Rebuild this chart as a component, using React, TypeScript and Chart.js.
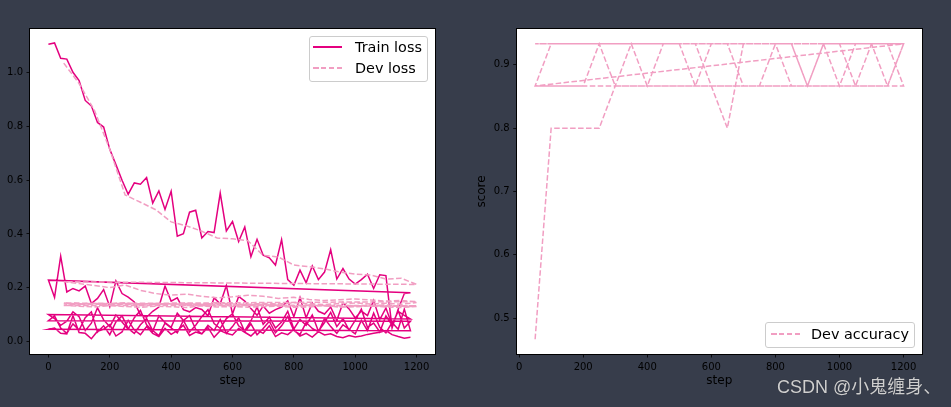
import React, { useEffect, useRef } from "react";
import { Chart, registerables } from "chart.js";

Chart.register(...registerables);

// ---------------- data ----------------
const trainSteps = [
  0, 20, 40, 60, 80, 100, 120, 140, 160, 180, 200, 220, 240, 260, 280, 300, 320, 340, 360, 380,
  400, 420, 440, 460, 480, 500, 520, 540, 560, 580, 600, 620, 640, 660, 680, 700, 720, 740, 760, 780,
  800, 820, 840, 860, 880, 900, 920, 940, 960, 980, 1000, 1020, 1040, 1060, 1080, 1100, 1120, 1140, 1160, 1180,
];
const devSteps = [
  50, 100, 150, 200, 250, 300, 350, 400, 450, 500, 550, 600,
  650, 700, 750, 800, 850, 900, 950, 1000, 1050, 1100, 1150, 1200,
];

const trainLossRun1 = [
  1.106, 1.111, 1.054, 1.051, 1.002, 0.971, 0.897, 0.877, 0.815, 0.798,
  0.715, 0.658, 0.600, 0.548, 0.590, 0.585, 0.610, 0.515, 0.560, 0.491,
  0.559, 0.392, 0.401, 0.481, 0.488, 0.385, 0.409, 0.405, 0.552, 0.411,
  0.446, 0.372, 0.426, 0.315, 0.380, 0.321, 0.311, 0.284, 0.379, 0.230,
  0.209, 0.265, 0.218, 0.281, 0.230, 0.258, 0.341, 0.232, 0.271, 0.232,
  0.213, 0.230, 0.250, 0.197, 0.248, 0.245, 0.050, 0.120, 0.178, 0.181,
];
const trainLossRun2 = [
  0.228, 0.164, 0.317, 0.184, 0.197, 0.188, 0.206, 0.141, 0.160, 0.193,
  0.129, 0.225, 0.178, 0.165, 0.147, 0.098, 0.090, 0.112, 0.128, 0.206,
  0.150, 0.162, 0.118, 0.110, 0.126, 0.119, 0.095, 0.162, 0.140, 0.208,
  0.102, 0.167, 0.150, 0.122, 0.097, 0.132, 0.105, 0.118, 0.128, 0.151,
  0.092, 0.163, 0.088, 0.143, 0.112, 0.102, 0.128, 0.078, 0.144, 0.121,
  0.087, 0.113, 0.096, 0.152, 0.081, 0.124, 0.062, 0.112, 0.097, 0.083,
];
const trainLossRun3 = [
  0.100, 0.085, 0.060, 0.075, 0.110, 0.092, 0.040, 0.068, 0.125, 0.080,
  0.055, 0.098, 0.072, 0.045, 0.088, 0.115, 0.062, 0.038, 0.095, 0.070,
  0.052, 0.105, 0.078, 0.035, 0.060, 0.092, 0.118, 0.066, 0.048, 0.085,
  0.102, 0.058, 0.040, 0.076, 0.128, 0.064, 0.090, 0.050, 0.072, 0.112,
  0.046, 0.082, 0.060, 0.098, 0.038, 0.070, 0.108, 0.055, 0.085, 0.042,
  0.078, 0.120, 0.052, 0.068, 0.035, 0.095, 0.060, 0.115, 0.050, 0.075,
];
const trainLossRun4 = [
  0.077, 0.095, 0.050, 0.030, 0.065, 0.042, 0.088, 0.110, 0.035, 0.058,
  0.025, 0.072, 0.095, 0.048, 0.030, 0.062, 0.085, 0.040, 0.022, 0.068,
  0.050, 0.032, 0.078, 0.096, 0.045, 0.028, 0.060, 0.040, 0.082, 0.030,
  0.055, 0.088, 0.036, 0.065, 0.025, 0.048, 0.075, 0.032, 0.058, 0.092,
  0.040, 0.026, 0.070, 0.048, 0.035, 0.085, 0.055, 0.030, 0.062, 0.045,
  0.028, 0.078, 0.040, 0.105, 0.052, 0.032, 0.070, 0.045, 0.120, 0.040,
];
const trainLossRun5 = [
  0.045, 0.050, 0.030, 0.028, 0.095, 0.033, 0.030, 0.010, 0.038, 0.045,
  0.062, 0.020, 0.035, 0.078, 0.042, 0.025, 0.055, 0.030, 0.018, 0.048,
  0.026, 0.040, 0.060, 0.022, 0.035, 0.028, 0.052, 0.015, 0.040, 0.030,
  0.024, 0.048, 0.034, 0.020, 0.042, 0.030, 0.058, 0.018, 0.032, 0.025,
  0.044, 0.020, 0.030, 0.016, 0.036, 0.024, 0.028, 0.018, 0.014, 0.022,
  0.016, 0.020, 0.026, 0.030, 0.034, 0.040, 0.025, 0.018, 0.012, 0.015,
];

const devLossRun1 = [
  1.036, 0.960, 0.860, 0.715, 0.545, 0.518, 0.490, 0.445, 0.430, 0.410, 0.385, 0.382,
  0.375, 0.320, 0.314, 0.284, 0.278, 0.270, 0.258, 0.250, 0.247, 0.232, 0.235, 0.212,
];
const devLossRun2 = [
  0.222, 0.215, 0.208, 0.200, 0.210, 0.190, 0.178, 0.172, 0.176, 0.168, 0.162, 0.166,
  0.172, 0.168, 0.160, 0.164, 0.156, 0.152, 0.155, 0.158, 0.154, 0.150, 0.152, 0.148,
];
const devLossRun3 = [
  0.140, 0.138, 0.142, 0.136, 0.139, 0.135, 0.137, 0.140, 0.134, 0.132, 0.136, 0.131,
  0.134, 0.138, 0.133, 0.130, 0.135, 0.132, 0.129, 0.134, 0.131, 0.136, 0.130, 0.133,
];
const devLossRun4 = [
  0.134, 0.131, 0.128, 0.133, 0.130, 0.127, 0.131, 0.129, 0.126, 0.132, 0.128, 0.130,
  0.127, 0.129, 0.131, 0.127, 0.128, 0.133, 0.127, 0.129, 0.132, 0.128, 0.126, 0.130,
];
const devLossRun5 = [
  0.143, 0.140, 0.137, 0.141, 0.144, 0.138, 0.142, 0.139, 0.141, 0.137, 0.143, 0.140,
  0.138, 0.142, 0.139, 0.144, 0.140, 0.137, 0.141, 0.143, 0.139, 0.142, 0.138, 0.145,
];

const devAccRun1 = [
  0.4667, 0.8, 0.8, 0.8, 0.8, 0.8667, 0.9333, 0.8667, 0.9333, 0.9333, 0.9333, 0.8667,
  0.8, 0.9333, 0.9333, 0.9333, 0.8667, 0.8667, 0.9333, 0.8667, 0.9333, 0.9333, 0.8667, 0.9333,
];
const devAccRun2 = [
  0.8667, 0.9333, 0.9333, 0.9333, 0.9333, 0.9333, 0.9333, 0.9333, 0.9333, 0.9333, 0.8667, 0.9333,
  0.9333, 0.8667, 0.8667, 0.9333, 0.9333, 0.8667, 0.9333, 0.9333, 0.8667, 0.9333, 0.9333, 0.8667,
];
const devAccRun3 = [
  0.8667, 0.8667, 0.8667, 0.8667, 0.9333, 0.8667, 0.8667, 0.8667, 0.8667, 0.8667, 0.8667, 0.8667,
  0.8667, 0.8667, 0.8667, 0.8667, 0.8667, 0.8667, 0.8667, 0.8667, 0.8667, 0.8667, 0.8667, 0.9333,
];
const devAccRun4 = [
  0.9333, 0.9333, 0.9333, 0.9333, 0.9333, 0.9333, 0.9333, 0.9333, 0.9333, 0.9333, 0.9333, 0.9333,
  0.9333, 0.9333, 0.9333, 0.9333, 0.9333, 0.8667, 0.9333, 0.9333, 0.9333, 0.9333, 0.9333, 0.9333,
];
const devAccRun5 = [
  0.9333, 0.9333, 0.9333, 0.9333, 0.9333, 0.9333, 0.9333, 0.9333, 0.9333, 0.9333, 0.9333, 0.9333,
  0.9333, 0.9333, 0.9333, 0.9333, 0.9333, 0.9333, 0.9333, 0.9333, 0.9333, 0.9333, 0.9333, 0.9333,
];

const stepTicks = [0, 200, 400, 600, 800, 1000, 1200];
const lossTicks = [0.0, 0.2, 0.4, 0.6, 0.8, 1.0];
const scoreTicks = [0.5, 0.6, 0.7, 0.8, 0.9];

// ---------------- style ----------------
const TRAIN_COLOR = "#e4007f";
const DEV_COLOR = "#f19ec2";
const BG = "#373d4b";
const FONT = "'DejaVu Sans', sans-serif";
const DASH = [5.55, 2.4];

function joinRuns(steps: number[], runs: number[][]) {
  const out: { x: number; y: number }[] = [];
  runs.forEach((r) => r.forEach((v, i) => out.push({ x: steps[i], y: v })));
  return out;
}

const framePlugin = {
  id: "frame",
  beforeDraw(chart: any) {
    const { ctx, chartArea } = chart;
    const { left, top, right, bottom } = chartArea;
    ctx.save();
    ctx.fillStyle = "#ffffff";
    ctx.fillRect(left, top, right - left, bottom - top);
    ctx.restore();
  },
  afterDraw(chart: any) {
    const { ctx, chartArea } = chart;
    const { left, top, right, bottom } = chartArea;
    ctx.save();
    ctx.strokeStyle = "#000000";
    ctx.lineWidth = 1;
    ctx.strokeRect(Math.round(left) - 0.5, Math.round(top) - 0.5, Math.round(right - left) + 1, Math.round(bottom - top) + 1);
    ctx.restore();
  },
};

function makeScale(
  min: number,
  max: number,
  ticks: number[],
  fmt: (v: number) => string,
  horizontal: boolean,
  size: number,
  title?: { text: string; padding: any }
) {
  return {
    type: "linear",
    min,
    max,
    afterBuildTicks: (s: any) => {
      s.ticks = ticks.map((v) => ({ value: v }));
    },
    afterFit: (s: any) => {
      if (horizontal) s.height = size;
      else s.width = size;
    },
    ticks: {
      color: "#000000",
      font: { family: FONT, size: 10 },
      padding: 3.5,
      autoSkip: false,
      maxRotation: 0,
      callback: (v: any) => fmt(Number(v)),
    },
    grid: {
      display: true,
      drawOnChartArea: false,
      drawTicks: true,
      tickLength: 3.5,
      tickWidth: 0.8,
      tickColor: "#000000",
      color: "#000000",
    },
    border: { display: false },
    title: title
      ? {
          display: true,
          text: title.text,
          color: "#000000",
          font: { family: FONT, size: 12 },
          padding: title.padding,
        }
      : { display: false },
  };
}

function ChartCanvas({ config, left, width }: { config: any; left: number; width: number }) {
  const ref = useRef<HTMLCanvasElement | null>(null);
  useEffect(() => {
    if (!ref.current) return;
    const chart = new Chart(ref.current, config);
    return () => chart.destroy();
  }, [config]);
  return (
    <canvas
      ref={ref}
      width={width}
      height={407}
      style={{ position: "absolute", left, top: 0, width, height: 407 }}
    />
  );
}

const lossConfig = {
  type: "line",
  data: {
    datasets: [
      {
        label: "Dev loss",
        data: joinRuns(devSteps, [devLossRun1, devLossRun2, devLossRun3, devLossRun4, devLossRun5]),
        borderColor: DEV_COLOR,
        borderWidth: 1.5,
        borderDash: DASH,
        pointRadius: 0,
        fill: false,
        tension: 0,
        order: 1,
      },
      {
        label: "Train loss",
        data: joinRuns(trainSteps, [trainLossRun1, trainLossRun2, trainLossRun3, trainLossRun4, trainLossRun5]),
        borderColor: TRAIN_COLOR,
        borderWidth: 1.5,
        pointRadius: 0,
        fill: false,
        tension: 0,
        order: 2,
      },
    ],
  },
  options: {
    animation: false,
    responsive: false,
    events: [],
    layout: { padding: { left: 0, top: 29, right: 40, bottom: 0 } },
    plugins: { legend: { display: false }, tooltip: { enabled: false } },
    scales: {
      x: makeScale(-60, 1260, stepTicks, (v) => String(v), true, 53, {
        text: "step",
        padding: { top: 0, bottom: 18.8 },
      }),
      y: makeScale(-0.047, 1.163, lossTicks, (v) => v.toFixed(1), false, 30),
    },
  },
  plugins: [framePlugin],
};

const accConfig = {
  type: "line",
  data: {
    datasets: [
      {
        label: "Dev accuracy",
        data: joinRuns(devSteps, [devAccRun1, devAccRun2, devAccRun3, devAccRun4, devAccRun5]),
        borderColor: DEV_COLOR,
        borderWidth: 1.5,
        borderDash: DASH,
        pointRadius: 0,
        fill: false,
        tension: 0,
      },
    ],
  },
  options: {
    animation: false,
    responsive: false,
    events: [],
    layout: { padding: { left: 0, top: 29, right: 29, bottom: 0 } },
    plugins: { legend: { display: false }, tooltip: { enabled: false } },
    scales: {
      x: makeScale(-7.5, 1257.5, stepTicks, (v) => String(v), true, 53, {
        text: "step",
        padding: { top: 0, bottom: 18.8 },
      }),
      y: makeScale(0.4433, 0.9567, scoreTicks, (v) => v.toFixed(1), false, 41.7, {
        text: "score",
        padding: { top: 0, bottom: 0 },
      }),
    },
  },
  plugins: [framePlugin],
};

function LegendSample({ x, y, color, dashed }: { x: number; y: number; color: string; dashed: boolean }) {
  return (
    <div
      style={{
        position: "absolute",
        left: x,
        top: y - 0.75,
        width: 29,
        height: 1.5,
        background: dashed
          ? `repeating-linear-gradient(to right, ${color} 0px, ${color} 5.55px, transparent 5.55px, transparent 7.95px)`
          : color,
      }}
    />
  );
}

function LegendText({ x, y, text }: { x: number; y: number; text: string }) {
  return (
    <div
      style={{
        position: "absolute",
        left: x,
        top: y - 9,
        height: 18,
        lineHeight: "18px",
        fontFamily: FONT,
        fontSize: 14.4,
        color: "#000",
        whiteSpace: "nowrap",
      }}
    >
      {text}
    </div>
  );
}

const legendBox: React.CSSProperties = {
  position: "absolute",
  background: "rgba(255,255,255,0.8)",
  border: "1px solid #cccccc",
  borderRadius: 3,
  boxSizing: "border-box",
};

export default function App() {
  return (
    <div
      style={{
        position: "fixed",
        left: 0,
        top: 0,
        width: 951,
        height: 407,
        background: BG,
        overflow: "hidden",
      }}
    >
      <ChartCanvas config={lossConfig} left={0} width={475} />
      <ChartCanvas config={accConfig} left={475} width={476} />

      <div style={{ ...legendBox, left: 309, top: 36, width: 119, height: 46 }} />
      <LegendSample x={313} y={47} color={TRAIN_COLOR} dashed={false} />
      <LegendText x={355} y={47} text="Train loss" />
      <LegendSample x={313} y={68} color={DEV_COLOR} dashed={true} />
      <LegendText x={355} y={68} text="Dev loss" />

      <div style={{ ...legendBox, left: 765, top: 322, width: 150, height: 26 }} />
      <LegendSample x={771} y={334} color={DEV_COLOR} dashed={true} />
      <LegendText x={811} y={334} text="Dev accuracy" />

      <div
        style={{
          position: "absolute",
          left: 777,
          top: 376,
          height: 22,
          lineHeight: "22px",
          fontFamily: "'Liberation Sans', 'Noto Sans CJK SC', sans-serif",
          fontSize: 18,
          color: "#cfcfcf",
          textShadow: "0 0 1px rgba(0,0,0,0.4)",
          whiteSpace: "nowrap",
        }}
      >
        CSDN @小鬼缠身、
      </div>
    </div>
  );
}
